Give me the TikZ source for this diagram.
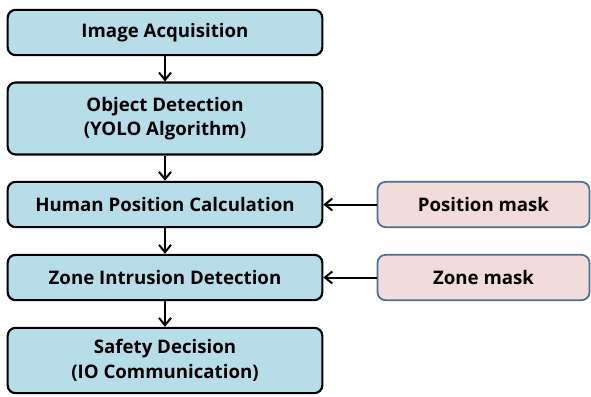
\documentclass[tikz,border=0pt]{standalone}
\usepackage{fontspec}
\setmainfont{Open Sans}
\usetikzlibrary{arrows,arrows.meta}

\definecolor{procblue}{HTML}{B7DDE8}
\definecolor{maskpink}{HTML}{F2DCDB}
\definecolor{maskedge}{HTML}{4A6E96}

\begin{document}
\begin{tikzpicture}[x=0.75pt,y=-0.75pt,
	proc/.style={draw=black,line width=1.6pt,fill=procblue,rounded corners=6pt,
		minimum width=236pt,minimum height=34pt,align=center,inner sep=0pt,
		font=\bfseries\fontsize{14}{18.5}\selectfont},
	mask/.style={draw=maskedge,line width=1.3pt,fill=maskpink,rounded corners=6pt,
		minimum width=159pt,minimum height=34pt,inner sep=0pt,
		font=\bfseries\fontsize{14}{18.5}\selectfont},
	flow/.style={-{Straight Barb[length=5.5pt,width=9pt,line width=1.5pt]},line width=1.5pt}]
\useasboundingbox (0,0) rectangle (591,396);

% main chain
\node[proc] (acq) at (165,32.5) {Image Acquisition};
\node[proc,minimum height=54pt] (det) at (165,118.5) {Object Detection\\(YOLO Algorithm)};
\node[proc] (pos) at (165,204.5) {Human Position Calculation};
\node[proc] (zone) at (165,277.5) {Zone Intrusion Detection};
\node[proc,minimum height=49pt] (safe) at (165,360.5) {Safety Decision\\(IO Communication)};

% masks
\node[mask] (posmask) at (483.5,204.5) {Position mask};
\node[mask] (zonemask) at (483.5,277.5) {Zone mask};

\foreach \a/\b in {acq/det,det/pos,pos/zone,zone/safe}
	{\draw[flow] (\a) -- (\b);}

\draw[flow] (posmask) -- (pos);
\draw[flow] (zonemask) -- (zone);
\end{tikzpicture}
\end{document}
